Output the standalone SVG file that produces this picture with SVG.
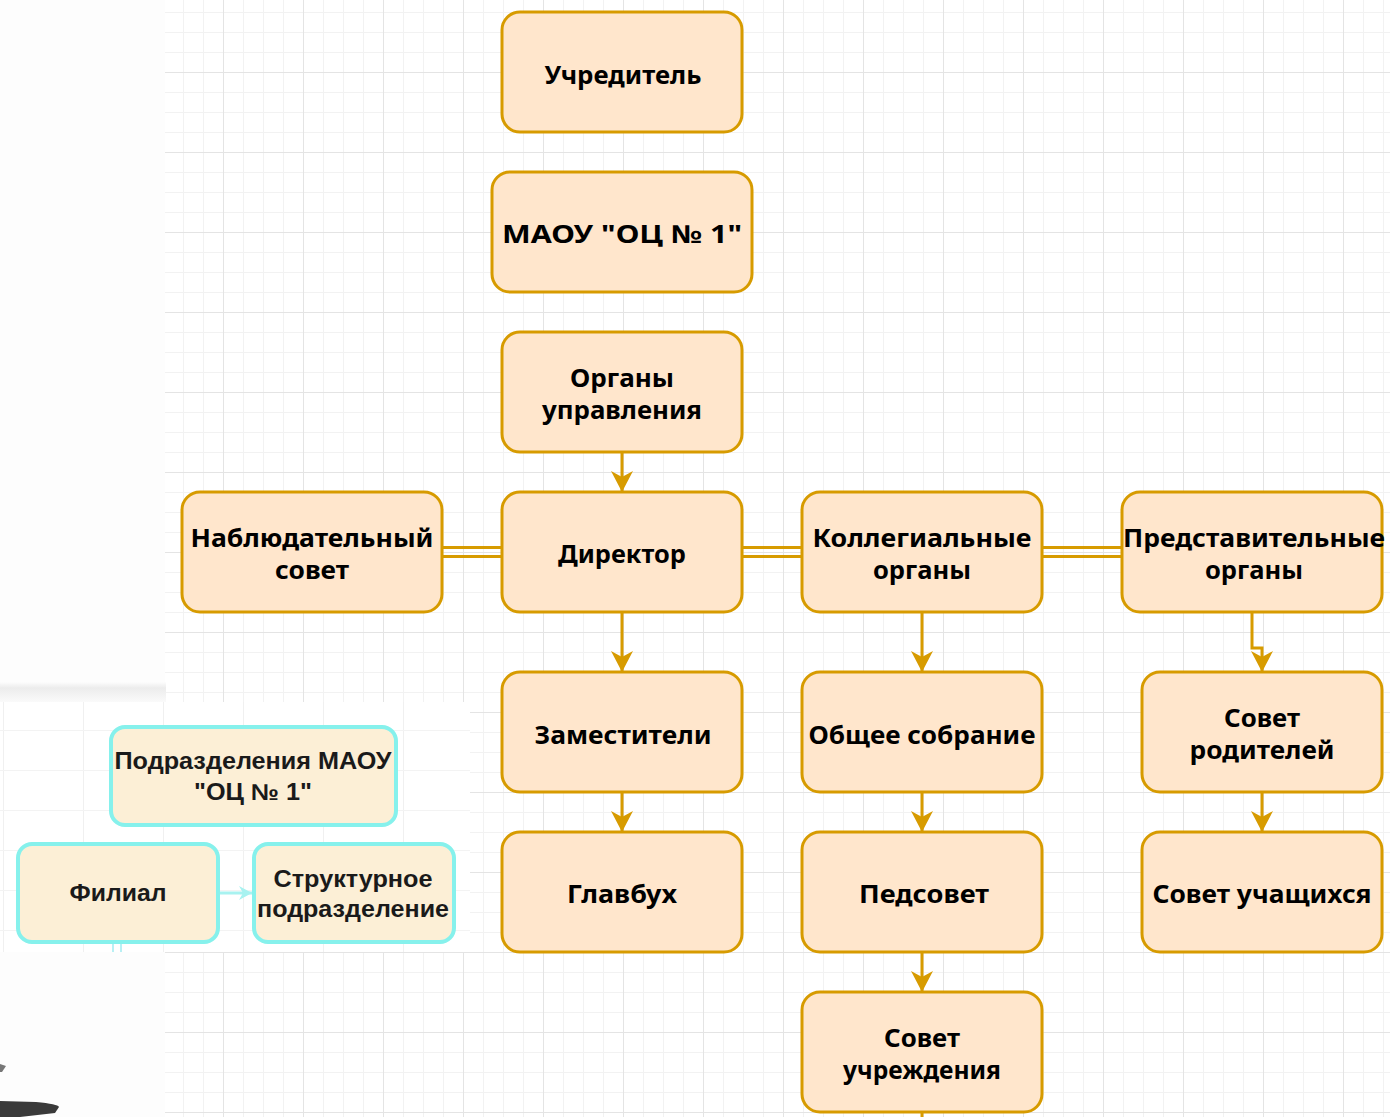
<svg xmlns="http://www.w3.org/2000/svg" width="1390" height="1117" viewBox="0 0 1390 1117">
  <style>
    .node rect { fill: #ffe6cc; stroke: #d79b00; stroke-width: 3; }
    .node text { font-family: "Noto Sans", "DejaVu Sans", sans-serif; font-weight: 700; font-size: 25px; fill: #000; text-anchor: middle; }
    .inset rect { fill: #fcefd6; stroke: #86f1ec; stroke-width: 4; }
    .inset text { font-family: "Liberation Sans", Arial, sans-serif; font-weight: 700; font-size: 23px; fill: #1a1a1a; text-anchor: middle; }
    .conn { fill: none; stroke: #d79b00; stroke-width: 3; }
    .link { fill: none; stroke: #d79b00; stroke-width: 3; }
  </style>
  <defs>
    <pattern id="minor" patternUnits="userSpaceOnUse" x="3" y="12" width="20" height="20">
      <rect x="0" y="0" width="1" height="20" fill="#f2f2f2"/>
      <rect x="0" y="0" width="20" height="1" fill="#f2f2f2"/>
    </pattern>
    <pattern id="major" patternUnits="userSpaceOnUse" x="63" y="72" width="80" height="80">
      <rect x="0" y="0" width="1" height="80" fill="#e4e4e4"/>
      <rect x="0" y="0" width="80" height="1" fill="#e4e4e4"/>
    </pattern>
    <pattern id="insetgrid" patternUnits="userSpaceOnUse" x="3" y="10" width="80" height="40">
      <rect x="0" y="0" width="1" height="40" fill="#f0f0f0"/>
      <rect x="0" y="0" width="80" height="1" fill="#f3f3f3"/>
    </pattern>
    <linearGradient id="shadow" x1="0" y1="0" x2="0" y2="1">
      <stop offset="0" stop-color="#fdfdfd"/>
      <stop offset="0.3" stop-color="#ececec"/>
      <stop offset="1" stop-color="#fafafa"/>
    </linearGradient>
    <marker id="arrow" markerUnits="userSpaceOnUse" markerWidth="24" markerHeight="24" refX="22" refY="11" orient="auto">
      <path d="M1,0 L22,11 L1,22 L7,11 Z" fill="#d79b00"/>
    </marker>
    <marker id="carrow" markerUnits="userSpaceOnUse" markerWidth="16" markerHeight="16" refX="14" refY="8" orient="auto">
      <path d="M1,1 L14,8 L1,15 L5,8 Z" fill="#a8f2f0"/>
    </marker>
  </defs>

  <!-- background -->
  <rect x="0" y="0" width="1390" height="1117" fill="#ffffff"/>
  <rect x="0" y="0" width="165" height="1117" fill="#fdfdfd"/>
  <rect x="165" y="0" width="1225" height="1117" fill="url(#minor)"/>
  <rect x="165" y="0" width="1225" height="1117" fill="url(#major)"/>
  <rect x="0" y="682" width="166" height="20" fill="url(#shadow)"/>

  <!-- inset picture -->
  <g id="inset-background">
    <rect x="0" y="702" width="470" height="250" fill="#ffffff"/>
    <rect x="0" y="702" width="470" height="250" fill="url(#insetgrid)"/>
  </g>

  <g id="connectors">
    <path class="conn" d="M622,452 V492" marker-end="url(#arrow)"/>
    <path class="conn" d="M622,612 V672" marker-end="url(#arrow)"/>
    <path class="conn" d="M622,792 V832" marker-end="url(#arrow)"/>
    <path class="conn" d="M922,612 V672" marker-end="url(#arrow)"/>
    <path class="conn" d="M922,792 V832" marker-end="url(#arrow)"/>
    <path class="conn" d="M922,952 V992" marker-end="url(#arrow)"/>
    <path class="conn" d="M922,1112 V1117"/>
    <path class="conn" d="M1252,612 V648 H1262 V672" marker-end="url(#arrow)"/>
    <path class="conn" d="M1262,792 V832" marker-end="url(#arrow)"/>
    <path class="link" d="M442,547.5 H502 M442,556.5 H502"/>
    <path class="link" d="M742,547.5 H802 M742,556.5 H802"/>
    <path class="link" d="M1042,547.5 H1122 M1042,556.5 H1122"/>
    <path d="M219,893 H252" fill="none" stroke="#a8f2f0" stroke-width="3" marker-end="url(#carrow)"/>
    <path d="M113,944 V952 M121,944 V952" fill="none" stroke="#b8f0f4" stroke-width="2"/>
  </g>

  <g id="n-uchreditel" class="node">
    <rect x="502" y="12" width="240" height="120" rx="18"/>
    <text x="623" y="84" textLength="157" lengthAdjust="spacingAndGlyphs">Учредитель</text>
  </g>
  <g id="n-maou" class="node">
    <rect x="492" y="172" width="260" height="120" rx="18"/>
    <text x="622" y="243" textLength="240" lengthAdjust="spacingAndGlyphs">МАОУ "ОЦ № 1"</text>
  </g>
  <g id="n-organy" class="node">
    <rect x="502" y="332" width="240" height="120" rx="18"/>
    <text x="622" y="387" textLength="104" lengthAdjust="spacingAndGlyphs">Органы</text>
    <text x="622" y="419" textLength="160" lengthAdjust="spacingAndGlyphs">управления</text>
  </g>
  <g id="n-nabl" class="node">
    <rect x="182" y="492" width="260" height="120" rx="18"/>
    <text x="312" y="547" textLength="243" lengthAdjust="spacingAndGlyphs">Наблюдательный</text>
    <text x="312" y="579" textLength="74" lengthAdjust="spacingAndGlyphs">совет</text>
  </g>
  <g id="n-director" class="node">
    <rect x="502" y="492" width="240" height="120" rx="18"/>
    <text x="622" y="563" textLength="128" lengthAdjust="spacingAndGlyphs">Директор</text>
  </g>
  <g id="n-koll" class="node">
    <rect x="802" y="492" width="240" height="120" rx="18"/>
    <text x="922" y="547" textLength="219" lengthAdjust="spacingAndGlyphs">Коллегиальные</text>
    <text x="922" y="579" textLength="98" lengthAdjust="spacingAndGlyphs">органы</text>
  </g>
  <g id="n-pred" class="node">
    <rect x="1122" y="492" width="260" height="120" rx="18"/>
    <text x="1254" y="547" textLength="262" lengthAdjust="spacingAndGlyphs">Представительные</text>
    <text x="1254" y="579" textLength="98" lengthAdjust="spacingAndGlyphs">органы</text>
  </g>
  <g id="n-zam" class="node">
    <rect x="502" y="672" width="240" height="120" rx="18"/>
    <text x="623" y="744" textLength="177" lengthAdjust="spacingAndGlyphs">Заместители</text>
  </g>
  <g id="n-obshchee" class="node">
    <rect x="802" y="672" width="240" height="120" rx="18"/>
    <text x="922" y="744" textLength="227" lengthAdjust="spacingAndGlyphs">Общее собрание</text>
  </g>
  <g id="n-sovet-rod" class="node">
    <rect x="1142" y="672" width="240" height="120" rx="18"/>
    <text x="1262" y="727" textLength="76" lengthAdjust="spacingAndGlyphs">Совет</text>
    <text x="1262" y="759" textLength="145" lengthAdjust="spacingAndGlyphs">родителей</text>
  </g>
  <g id="n-glavbukh" class="node">
    <rect x="502" y="832" width="240" height="120" rx="18"/>
    <text x="622" y="903" textLength="110" lengthAdjust="spacingAndGlyphs">Главбух</text>
  </g>
  <g id="n-pedsovet" class="node">
    <rect x="802" y="832" width="240" height="120" rx="18"/>
    <text x="924" y="903" textLength="130" lengthAdjust="spacingAndGlyphs">Педсовет</text>
  </g>
  <g id="n-sovet-uch" class="node">
    <rect x="1142" y="832" width="240" height="120" rx="18"/>
    <text x="1262" y="903" textLength="219" lengthAdjust="spacingAndGlyphs">Совет учащихся</text>
  </g>
  <g id="n-sovet-uchr" class="node">
    <rect x="802" y="992" width="240" height="120" rx="18"/>
    <text x="922" y="1047" textLength="76" lengthAdjust="spacingAndGlyphs">Совет</text>
    <text x="922" y="1079" textLength="158" lengthAdjust="spacingAndGlyphs">учреждения</text>
  </g>

  <g id="i-podrazd" class="inset">
    <rect x="111" y="727" width="285" height="98" rx="14"/>
    <text x="253" y="769" textLength="277" lengthAdjust="spacingAndGlyphs">Подразделения МАОУ</text>
    <text x="253" y="800" textLength="118" lengthAdjust="spacingAndGlyphs">"ОЦ № 1"</text>
  </g>
  <g id="i-filial" class="inset">
    <rect x="18" y="844" width="200" height="98" rx="14"/>
    <text x="118" y="901" textLength="97" lengthAdjust="spacingAndGlyphs">Филиал</text>
  </g>
  <g id="i-struct" class="inset">
    <rect x="254" y="844" width="200" height="98" rx="14"/>
    <text x="353" y="887" textLength="159" lengthAdjust="spacingAndGlyphs">Структурное</text>
    <text x="353" y="917" textLength="192" lengthAdjust="spacingAndGlyphs">подразделение</text>
  </g>

  <!-- dark object at bottom-left corner -->
  <path d="M0,1101 L36,1102 Q58,1104 59,1107 L55,1113 L20,1117 L0,1117 Z" fill="#3a3a3a"/>
  <path d="M0,1064 L6,1066 L2,1072 L0,1072 Z" fill="#777777"/>
</svg>
